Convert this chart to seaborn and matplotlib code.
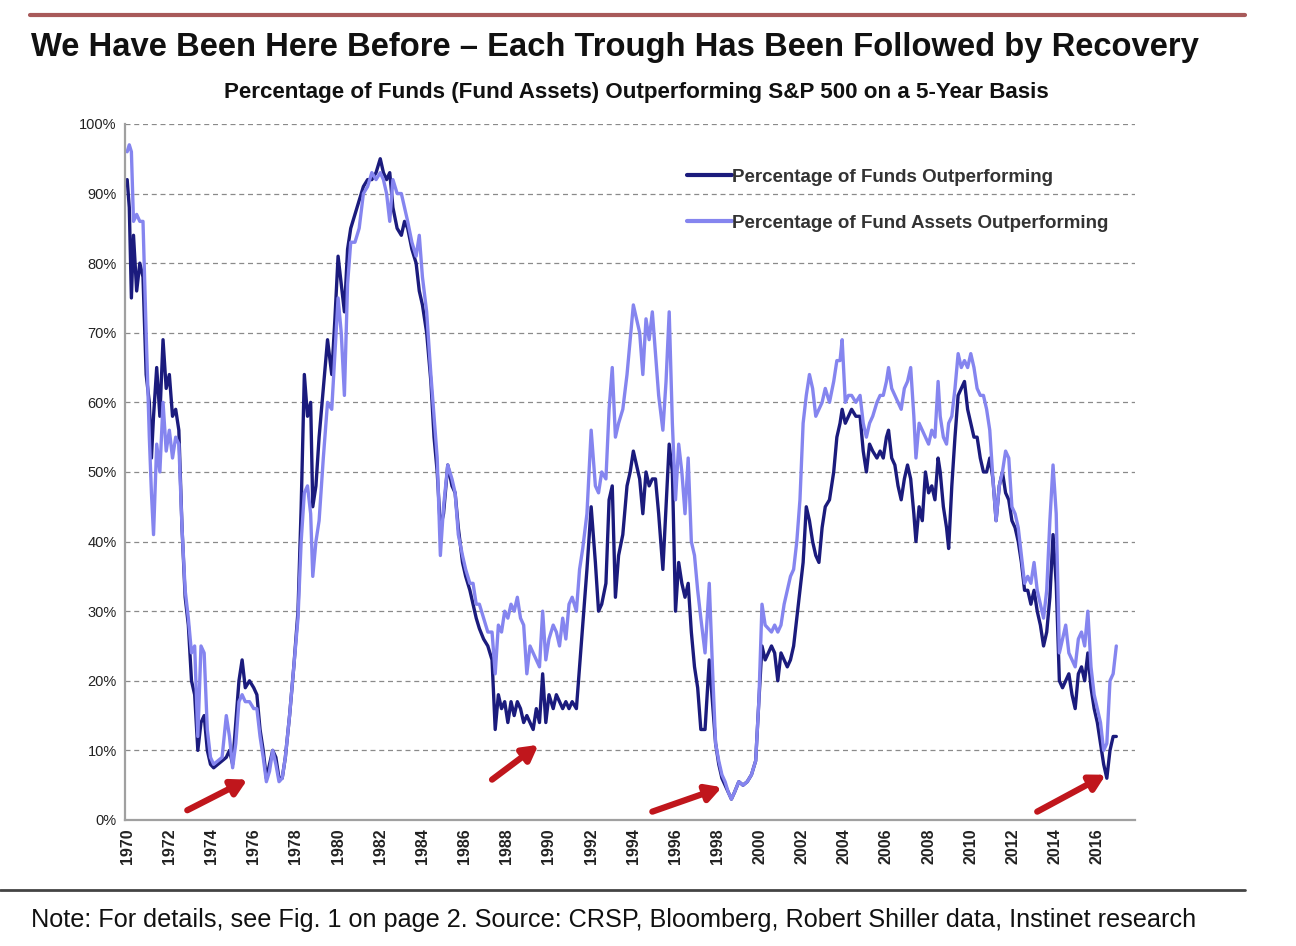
#!/usr/bin/env python
"""Funds outperforming the S&P 500 on a 5-year basis, 1970-2016."""

import numpy as np
import pandas as pd
import matplotlib
matplotlib.use('Agg')
import matplotlib.pyplot as plt
import seaborn as sns

# decimal year of each reading
years = [
    1970.0, 1970.1, 1970.2, 1970.3, 1970.45, 1970.6, 1970.75, 1970.9, 1971.05, 1971.15,
    1971.25, 1971.4, 1971.55, 1971.7, 1971.85, 1972.0, 1972.15, 1972.3, 1972.45, 1972.6,
    1972.75, 1972.9, 1973.05, 1973.2, 1973.35, 1973.5, 1973.65, 1973.8, 1973.95, 1974.1,
    1974.3, 1974.5, 1974.7, 1974.85, 1975.0, 1975.15, 1975.3, 1975.45, 1975.6, 1975.8,
    1976.0, 1976.15, 1976.3, 1976.45, 1976.6, 1976.75, 1976.9, 1977.05, 1977.2, 1977.35,
    1977.5, 1977.7, 1977.9, 1978.1, 1978.25, 1978.4, 1978.55, 1978.7, 1978.8, 1978.95,
    1979.1, 1979.3, 1979.5, 1979.7, 1979.85, 1980.0, 1980.15, 1980.3, 1980.45, 1980.6,
    1980.8, 1981.0, 1981.2, 1981.4, 1981.6, 1981.8, 1982.0, 1982.15, 1982.3, 1982.45,
    1982.6, 1982.8, 1983.0, 1983.15, 1983.3, 1983.5, 1983.7, 1983.85, 1984.0, 1984.2,
    1984.4, 1984.55, 1984.7, 1984.85, 1985.0, 1985.2, 1985.4, 1985.55, 1985.7, 1985.9,
    1986.05, 1986.25, 1986.4, 1986.55, 1986.7, 1986.9, 1987.1, 1987.3, 1987.45, 1987.6,
    1987.75, 1987.9, 1988.05, 1988.2, 1988.35, 1988.5, 1988.65, 1988.8, 1988.95, 1989.1,
    1989.25, 1989.4, 1989.55, 1989.7, 1989.85, 1990.0, 1990.2, 1990.35, 1990.5, 1990.65,
    1990.8, 1990.95, 1991.1, 1991.3, 1991.45, 1991.6, 1991.8, 1992.0, 1992.2, 1992.35,
    1992.5, 1992.7, 1992.85, 1993.0, 1993.15, 1993.3, 1993.5, 1993.7, 1993.85, 1994.0,
    1994.15, 1994.3, 1994.45, 1994.6, 1994.75, 1994.9, 1995.05, 1995.2, 1995.4, 1995.55,
    1995.7, 1995.85, 1996.0, 1996.15, 1996.3, 1996.45, 1996.6, 1996.75, 1996.9, 1997.05,
    1997.2, 1997.4, 1997.6, 1997.75, 1997.9, 1998.05, 1998.2, 1998.35, 1998.5, 1998.65,
    1998.8, 1999.0, 1999.2, 1999.4, 1999.6, 1999.8, 1999.95, 2000.1, 2000.25, 2000.4,
    2000.55, 2000.7, 2000.85, 2001.0, 2001.15, 2001.3, 2001.45, 2001.6, 2001.75, 2001.9,
    2002.05, 2002.2, 2002.35, 2002.5, 2002.65, 2002.8, 2002.95, 2003.1, 2003.3, 2003.5,
    2003.65, 2003.8, 2003.9, 2004.05, 2004.2, 2004.35, 2004.55, 2004.75, 2004.9, 2005.05,
    2005.2, 2005.35, 2005.55, 2005.7, 2005.85, 2006.0, 2006.1, 2006.25, 2006.4, 2006.55,
    2006.7, 2006.85, 2007.0, 2007.15, 2007.3, 2007.4, 2007.55, 2007.7, 2007.85, 2008.0,
    2008.15, 2008.3, 2008.45, 2008.55, 2008.7, 2008.85, 2008.95, 2009.1, 2009.25, 2009.4,
    2009.55, 2009.7, 2009.85, 2010.0, 2010.15, 2010.3, 2010.45, 2010.6, 2010.75, 2010.9,
    2011.05, 2011.2, 2011.35, 2011.5, 2011.65, 2011.8, 2011.95, 2012.1, 2012.25, 2012.4,
    2012.55, 2012.7, 2012.85, 2013.0, 2013.15, 2013.3, 2013.45, 2013.6, 2013.75, 2013.9,
    2014.05, 2014.2, 2014.35, 2014.5, 2014.65, 2014.8, 2014.95, 2015.1, 2015.25, 2015.4,
    2015.55, 2015.7, 2015.85, 2016.0, 2016.15, 2016.3, 2016.45, 2016.6, 2016.75, 2016.9,
]

# percentage of funds outperforming (dark line)
funds_pct = [
    92, 88, 75, 84, 76, 80, 78, 64, 60, 52,
    58, 65, 58, 69, 62, 64, 58, 59, 56, 42,
    32, 28, 20, 18, 10, 14, 15, 10, 8, 7.5,
    8, 8.5, 9, 10, 8, 14, 20, 23, 19, 20,
    19, 18, 13, 10, 6, 8, 10, 9, 6, 6,
    9, 15, 22, 30, 45, 64, 58, 60, 45, 48,
    55, 62, 69, 64, 72, 81, 77, 73, 82, 85,
    87, 89, 91, 92, 92, 93, 95, 93, 92, 93,
    88, 85, 84, 86, 85, 82, 80, 76, 74, 70,
    63, 55, 50, 42, 44, 51, 48, 47, 42, 37,
    35, 33, 31, 29, 27.5, 26, 25, 23, 13, 18,
    16, 17, 14, 17, 15, 17, 16, 14, 15, 14,
    13, 16, 14, 21, 14, 18, 16, 18, 17, 16,
    17, 16, 17, 16, 22, 28, 36, 45, 37, 30,
    31, 34, 46, 48, 32, 38, 41, 48, 50, 53,
    51, 49, 44, 50, 48, 49, 49, 44, 36, 45,
    54, 50, 30, 37, 34, 32, 34, 27, 22, 19,
    13, 13, 23, 17, 11, 8, 6, 5, 4, 3,
    4, 5.5, 5, 5.5, 6.5, 8.5, 17, 25, 23, 24,
    25, 24, 20, 24, 23, 22, 23, 25, 29, 33,
    37, 45, 43, 40, 38, 37, 42, 45, 46, 50,
    55, 57, 59, 57, 58, 59, 58, 58, 53, 50,
    54, 53, 52, 53, 52, 55, 56, 52, 51, 48,
    46, 49, 51, 49, 44, 40, 45, 43, 50, 47,
    48, 46, 52, 50, 45, 42, 39, 48, 55, 61,
    62, 63, 59, 57, 55, 55, 52, 50, 50, 52,
    49, 43, 48, 50, 47, 46, 43, 42, 40, 37,
    33, 33, 31, 33, 30, 28, 25, 27, 32, 41,
    34, 20, 19, 20, 21, 18, 16, 21, 22, 20,
    24, 19, 16, 14, 11, 8, 6, 10, 12, 12,
]

# percentage of fund assets outperforming (light line)
assets_pct = [
    96, 97, 96, 86, 87, 86, 86, 70, 55, 47,
    41, 54, 50, 60, 53, 56, 52, 55, 54, 42,
    33, 29, 24, 25, 12, 25, 24, 13, 9, 8,
    8.5, 9, 15, 12, 7.5, 11, 17, 18, 17, 17,
    16, 16, 12, 9, 5.5, 7, 10, 8, 5.5, 6,
    9, 15, 22, 29, 40, 47, 48, 44, 35, 40,
    43, 52, 60, 59, 67, 75, 70, 61, 77, 83,
    83, 85, 90, 91, 93, 92, 93, 92, 90, 86,
    92, 90, 90, 88, 86, 83, 81, 84, 78, 73,
    64, 58, 52, 38, 45, 51, 49, 47, 41, 38,
    36, 34, 34, 31, 31, 29, 27, 27, 21, 28,
    27, 30, 29, 31, 30, 32, 29, 28, 21, 25,
    24, 23, 22, 30, 23, 26, 28, 27, 25, 29,
    26, 31, 32, 30, 36, 39, 44, 56, 48, 47,
    50, 49, 59, 65, 55, 57, 59, 64, 69, 74,
    72, 70, 64, 72, 69, 73, 67, 61, 56, 63,
    73, 57, 46, 54, 50, 44, 52, 40, 38, 33,
    29, 24, 34, 22, 11, 8.5, 6.5, 5.5, 4, 3,
    4, 5.5, 5, 5.5, 6.5, 8.5, 17, 31, 28, 27.5,
    27, 28, 27, 28, 31, 33, 35, 36, 40, 46,
    57, 61, 64, 62, 58, 59, 60, 62, 60, 63,
    66, 66, 69, 60, 61, 61, 60, 61, 57, 55,
    57, 58, 60, 61, 61, 63, 65, 62, 61, 60,
    59, 62, 63, 65, 58, 52, 57, 56, 55, 54,
    56, 55, 63, 58, 55, 54, 57, 58, 62, 67,
    65, 66, 65, 67, 65, 62, 61, 61, 59, 56,
    49, 43, 48, 50, 53, 52, 45, 44, 42, 38,
    34, 35, 34, 37, 33, 31, 29, 33, 43, 51,
    44, 24, 26, 28, 24, 23, 22, 26, 27, 25,
    30, 22, 18, 16, 14, 10, 11, 20, 21, 25,
]

series_names = ['Percentage of Funds Outperforming',
                'Percentage of Fund Assets Outperforming']
series_colors = ['#1b1b7d', '#8585ef']

year_ticks = list(range(1970, 2017, 2))
pct_ticks = list(range(0, 101, 10))

# trough arrows: (tail year, tail pct, head year, head pct)
arrows = [
    (1972.85, 1.4, 1975.7, 5.8),
    (1987.3, 5.8, 1989.5, 10.8),
    (1994.9, 1.2, 1998.2, 4.7),
    (2013.15, 1.2, 2016.4, 6.5),
]

title = 'We Have Been Here Before \u2013 Each Trough Has Been Followed by Recovery'
subtitle = 'Percentage of Funds (Fund Assets) Outperforming S&P 500 on a 5-Year Basis'
note = ('Note: For details, see Fig. 1 on page 2. Source: CRSP, Bloomberg, '
        'Robert Shiller data, Instinet research')


def main():
    sns.set_style('white')
    plt.rcParams['font.family'] = ['Liberation Sans', 'DejaVu Sans']

    df = pd.DataFrame({
        'year': years * 2,
        'pct': funds_pct + assets_pct,
        'series': [series_names[0]] * len(years) + [series_names[1]] * len(years),
    })

    fig = plt.figure(figsize=(12.96, 9.46), dpi=100)
    ax = fig.add_axes([0.0965, 0.1332, 0.7795, 0.7358])

    sns.lineplot(data=df, x='year', y='pct', hue='series',
                 hue_order=series_names, palette=series_colors,
                 linewidth=2.4, ax=ax, sort=False)

    ax.set_xlim(1969.9, 2017.8)
    ax.set_ylim(0, 100)
    ax.set_xticks(year_ticks)
    ax.set_xticklabels([str(y) for y in year_ticks], rotation=90,
                       fontsize=11.5, fontweight='bold')
    ax.set_yticks(pct_ticks)
    ax.set_yticklabels([f'{p}%' for p in pct_ticks], fontsize=10.5)
    ax.set_xlabel('')
    ax.set_ylabel('')

    ax.grid(axis='y', color='#8a8a8a', linestyle=(0, (4, 3)), linewidth=0.9)
    ax.set_axisbelow(True)
    for side in ['top', 'right']:
        ax.spines[side].set_visible(False)
    for side in ['left', 'bottom']:
        ax.spines[side].set_color('#a0a0a0')
        ax.spines[side].set_linewidth(1.6)
    ax.tick_params(axis='both', length=3, width=1, color='#a0a0a0',
                   direction='out', pad=3, colors='#222222')

    leg = ax.legend(loc='upper right', bbox_to_anchor=(0.99, 0.96), frameon=False,
                    handlelength=2.4, handletextpad=0.0, labelspacing=1.55,
                    prop={'size': 13.5, 'weight': 'bold'})
    for line in leg.get_lines():
        line.set_linewidth(3)
    for text in leg.get_texts():
        text.set_color('#333333')

    for x0, y0, x1, y1 in arrows:
        ax.annotate('', xy=(x1, y1), xytext=(x0, y0),
                    arrowprops=dict(arrowstyle='-|>,head_length=0.9,head_width=0.5',
                                    color='#c0161c', lw=4.5, shrinkA=0, shrinkB=0))

    # page decorations: red rule at top, grey rule above the note
    fig.add_artist(plt.Line2D([0.023, 0.961], [0.984, 0.984], color='#a85a5a',
                              linewidth=3, transform=fig.transFigure))
    fig.add_artist(plt.Line2D([0.0, 0.961], [0.059, 0.059], color='#444444',
                              linewidth=2, transform=fig.transFigure))

    fig.text(0.024, 0.950, title, fontsize=23.6, fontweight='bold', ha='left',
             va='center', color='#111111')
    fig.text(0.491, 0.902, subtitle, fontsize=16.1, fontweight='bold',
             ha='center', va='center', color='#111111')
    fig.text(0.024, 0.027, note, fontsize=18.2, ha='left', va='center',
             color='#111111')

    fig.savefig('out.png', dpi=100)
    plt.close(fig)


if __name__ == '__main__':
    main()
